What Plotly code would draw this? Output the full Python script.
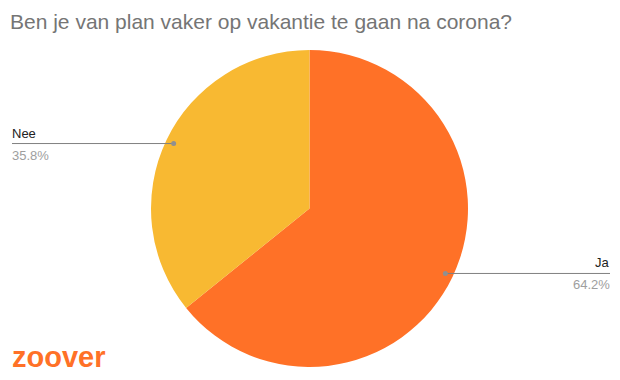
import math
import plotly.graph_objects as go

# Survey answers and their shares
labels = ["Ja", "Nee"]
values = [64.2, 35.8]
colors = ["#FF7127", "#F8B932"]
title_text = "Ben je van plan vaker op vakantie te gaan na corona?"
brand_text = "zoover"

W, H = 620, 380
# pie placement in pixels
cx, cy, r = 309.5, 208.5, 158.5

fig = go.Figure(go.Pie(
    labels=labels,
    values=values,
    marker=dict(colors=colors, line=dict(width=0)),
    sort=False,
    direction="clockwise",
    rotation=0,
    textinfo="none",
    hoverinfo="label+percent",
    domain=dict(x=[(cx - r) / W, (cx + r) / W], y=[1 - (cy + r) / H, 1 - (cy - r) / H]),
))

shapes = []
annotations = []
total = sum(values)
start = 0.0
for lab, val in zip(labels, values):
    frac = val / total
    mid = (start + frac / 2) * 2 * math.pi
    start += frac
    # anchor point on the slice, measured clockwise from the top
    px = cx + 0.95 * r * math.sin(mid)
    py = cy - 0.95 * r * math.cos(mid)
    right = math.sin(mid) > 0
    end_x = 610 if right else 12
    shapes.append(dict(type="line", xref="paper", yref="paper",
                       x0=px / W, x1=end_x / W, y0=1 - py / H, y1=1 - py / H,
                       line=dict(color="#808080", width=1)))
    shapes.append(dict(type="circle", xref="paper", yref="paper",
                       x0=(px - 2.5) / W, x1=(px + 2.5) / W,
                       y0=1 - (py + 2.5) / H, y1=1 - (py - 2.5) / H,
                       fillcolor="#909090", line=dict(width=0)))
    anchor = "right" if right else "left"
    shift = 2 if right else -2
    annotations.append(dict(text=lab, xref="paper", yref="paper",
                            x=end_x / W, y=1 - (py - 1) / H, xanchor=anchor, yanchor="bottom",
                            xshift=shift, showarrow=False,
                            font=dict(size=13, color="#222222", family="Liberation Sans, Arial")))
    annotations.append(dict(text=f"{val:.1f}%", xref="paper", yref="paper",
                            x=end_x / W, y=1 - (py + 2) / H, xanchor=anchor, yanchor="top",
                            xshift=shift, showarrow=False,
                            font=dict(size=13, color="#9E9E9E", family="Liberation Sans, Arial")))

annotations.append(dict(text=title_text, xref="paper", yref="paper",
                        x=10 / W, y=1 - 22 / H, xanchor="left", yanchor="middle",
                        xshift=-2, showarrow=False,
                        font=dict(size=21, color="#757575", family="Liberation Sans, Arial")))
annotations.append(dict(text=f"<b>{brand_text}</b>", xref="paper", yref="paper",
                        x=10 / W, y=1 - 357 / H, xanchor="left", yanchor="middle",
                        showarrow=False,
                        font=dict(size=29, color="#FF7127", family="Liberation Sans, Arial")))

fig.update_layout(
    width=W, height=H,
    margin=dict(l=0, r=0, t=0, b=0),
    paper_bgcolor="white",
    plot_bgcolor="white",
    showlegend=False,
    shapes=shapes,
    annotations=annotations,
)

fig.write_html("out.html")
